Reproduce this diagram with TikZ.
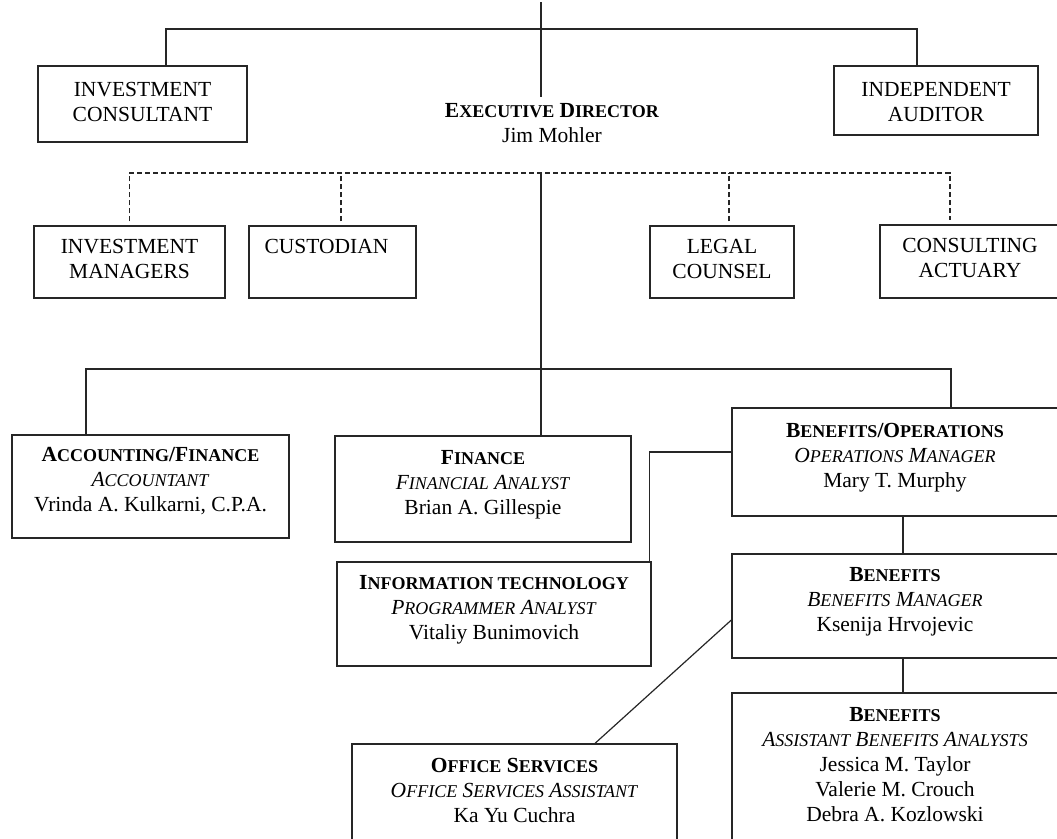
\documentclass[tikz,border=0pt]{standalone}
\usepackage{fontspec}
\setmainfont{Liberation Serif}
\usepackage{tikz}
\usetikzlibrary{positioning}
\newcommand{\lc}[1]{{\fontsize{18}{25}\selectfont #1}}

\begin{document}
\begin{tikzpicture}[x=1pt,y=-1pt,font=\fontsize{21.5}{25}\selectfont,
  box/.style={draw=black!85,line width=1.3pt,inner sep=0pt},
  txt/.style={align=center,inner sep=0pt},
  link/.style={draw=black!85,line width=1.2pt},
  linkdash/.style={link,dash pattern=on 5pt off 3pt}]
  \useasboundingbox (0,0) rectangle (1057,838);
  % Board level
  \node[box,minimum width=209pt,minimum height=76pt] (invcons) at (142.5,104) {};
  \node[box,minimum width=204pt,minimum height=69pt] (indaud) at (936,100.5) {};
  \node[txt,below=17pt of invcons.north] (invcons-t) {INVESTMENT\\CONSULTANT};
  \node[txt,below=17pt of indaud.north] (indaud-t) {INDEPENDENT\\AUDITOR};
  \node[txt,anchor=north] (exec) at (552,103)
    {\textbf{E\lc{XECUTIVE} D\lc{IRECTOR}}\\Jim Mohler};
  % Outside services
  \node[box,minimum width=191pt,minimum height=72pt] (invman) at (129.5,262) {};
  \node[box,minimum width=167pt,minimum height=72pt] (cust) at (332.5,262) {};
  \node[box,minimum width=144pt,minimum height=72pt] (legal) at (722,262) {};
  \node[box,minimum width=180pt,minimum height=73pt] (consact) at (970,261.5) {};
  \node[txt,below=14pt of invman.north] (invman-t) {INVESTMENT\\MANAGERS};
  \node[txt,below=14pt of cust.north,xshift=-6pt] (cust-t) {CUSTODIAN};
  \node[txt,below=14pt of legal.north] (legal-t) {LEGAL\\COUNSEL};
  \node[txt,below=14pt of consact.north] (consact-t) {CONSULTING\\ACTUARY};
  % Staff
  \node[box,minimum width=277pt,minimum height=103pt] (acct) at (150.5,486.5) {};
  \node[box,minimum width=296pt,minimum height=106pt] (finance) at (483,489) {};
  \node[box,minimum width=326pt,minimum height=108pt] (benops) at (895,462) {};
  \node[box,minimum width=314pt,minimum height=104pt] (itech) at (494,614) {};
  \node[box,minimum width=326pt,minimum height=104pt] (ben) at (895,606) {};
  \node[box,minimum width=325pt,minimum height=106pt] (office) at (514.5,797) {};
  \node[box,minimum width=326pt,minimum height=157pt] (benasst) at (895,771.5) {};
  \node[txt,below=13pt of acct.north] (acct-t)
    {\textbf{A\lc{CCOUNTING}/F\lc{INANCE}}\\\textit{A\lc{CCOUNTANT}}\\Vrinda A. Kulkarni, C.P.A.};
  \node[txt,below=15pt of finance.north] (finance-t)
    {\textbf{F\lc{INANCE}}\\\textit{F\lc{INANCIAL} A\lc{NALYST}}\\Brian A. Gillespie};
  \node[txt,below=16pt of benops.north] (benops-t)
    {\textbf{B\lc{ENEFITS}/O\lc{PERATIONS}}\\\textit{O\lc{PERATIONS} M\lc{ANAGER}}\\Mary T. Murphy};
  \node[txt,below=14pt of itech.north] (itech-t)
    {\textbf{I\lc{NFORMATION TECHNOLOGY}}\\\textit{P\lc{ROGRAMMER} A\lc{NALYST}}\\Vitaliy Bunimovich};
  \node[txt,below=14pt of ben.north] (ben-t)
    {\textbf{B\lc{ENEFITS}}\\\textit{B\lc{ENEFITS} M\lc{ANAGER}}\\Ksenija Hrvojevic};
  \node[txt,below=15pt of office.north] (office-t)
    {\textbf{O\lc{FFICE} S\lc{ERVICES}}\\\textit{O\lc{FFICE} S\lc{ERVICES} A\lc{SSISTANT}}\\Ka Yu Cuchra};
  \node[txt,below=15pt of benasst.north] (benasst-t)
    {\textbf{B\lc{ENEFITS}}\\\textit{A\lc{SSISTANT} B\lc{ENEFITS} A\lc{NALYSTS}}\\Jessica M. Taylor\\Valerie M. Crouch\\Debra A. Kozlowski};
  % Lines
  \coordinate (top) at (541,2);
  \coordinate (topbus) at (541,29);
  \coordinate (dashbus) at (541,173);
  \coordinate (midbus) at (541,369);
  \draw[link] (top) -- ++(0,95);
  \draw[link] ([xshift=23.5pt]invcons.north) |- (topbus) -| ([xshift=-19pt]indaud.north);
  \draw[linkdash] ([yshift=4pt]invman.north) |- (dashbus) -| ([xshift=-20pt,yshift=4pt]consact.north);
  \foreach \n/\dx in {cust/8.5,legal/7}
    \draw[linkdash] ([xshift=\dx pt,yshift=4pt]\n.north) coordinate (drop) -- (drop |- dashbus);
  \draw[link] (dashbus) -- ([xshift=58pt]finance.north);
  \draw[link] ([xshift=-64.5pt]acct.north) |- (midbus) -| ([xshift=56pt]benops.north);
  \draw[link] ([xshift=-2pt]itech.north east) |- ([yshift=10pt]benops.west);
  \draw[link] ([xshift=8pt]benops.south) -- ([xshift=8pt]ben.north);
  \draw[link] ([xshift=8pt]ben.south) -- ([xshift=8pt]benasst.north);
  \draw[link] ([yshift=-14pt]ben.west) -- ([xshift=80.5pt]office.north);
\end{tikzpicture}
\end{document}
